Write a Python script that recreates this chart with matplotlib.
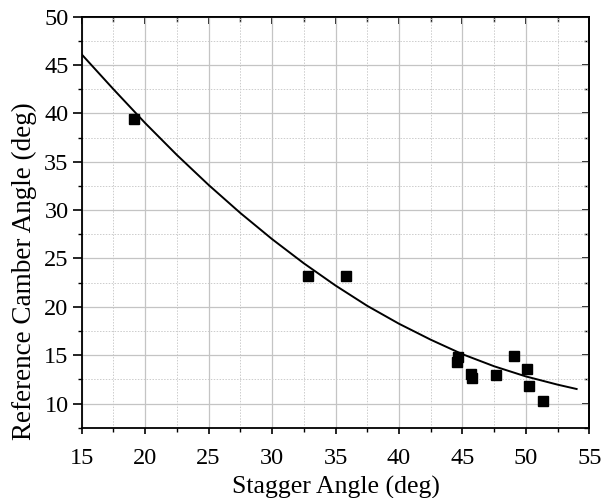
import matplotlib
matplotlib.use('Agg')
import matplotlib.pyplot as plt
from matplotlib.ticker import MultipleLocator

# --- data ---
stagger = [19.12, 32.86, 35.85, 44.63, 44.55, 45.65, 45.78, 47.65, 49.07, 50.07, 50.22, 51.37]
camber = [39.47, 23.23, 23.2, 14.77, 14.25, 13.05, 12.63, 12.94, 14.91, 13.53, 11.8, 10.31]

# fitted curve as it appears in the picture
fit_x = [15, 17.5, 20, 22.5, 25, 27.5, 30, 32.5, 35, 37.5, 40, 42.5, 45, 47.5, 50, 52.5, 54]
fit_y = [46.1, 42.5, 39.0, 35.7, 32.6, 29.7, 27.0, 24.5, 22.2, 20.1, 18.25, 16.6, 15.1, 13.85, 12.8, 11.95, 11.5]

y_ticks = [10, 15, 20, 25, 30, 35, 40, 45, 50]

plt.rcParams['font.family'] = ['Liberation Serif', 'DejaVu Serif']

fig = plt.figure(figsize=(6.03, 4.98), dpi=100)
ax = fig.add_axes([0.1355, 0.1412, 0.8418, 0.8253])

ax.plot(fit_x, fit_y, color='black', linewidth=1.4, zorder=3)
ax.plot(stagger, camber, linestyle='none', marker='s', markersize=7.2,
        color='black', zorder=4)

ax.set_xlim(15, 55)
ax.set_ylim(7.5, 50)
ax.xaxis.set_major_locator(MultipleLocator(5))
ax.xaxis.set_minor_locator(MultipleLocator(2.5))
ax.set_yticks(y_ticks)
ax.yaxis.set_minor_locator(MultipleLocator(2.5))

ax.grid(True, which='major', color='#c4c4c4', linewidth=0.9, linestyle='-')
ax.grid(True, which='minor', color='#cccccc', linewidth=0.7, linestyle=(0, (1.5, 1.5)))
ax.set_axisbelow(True)

for s in ax.spines.values():
    s.set_linewidth(1.3)

ax.tick_params(axis='x', which='major', direction='out', length=4.5, width=1.2,
               labelsize=17.5, pad=10)
ax.tick_params(axis='x', which='minor', direction='out', length=2.8, width=1.0)
ax.tick_params(axis='y', which='major', direction='out', length=6.5, width=1.2,
               labelsize=17.5, pad=3)
ax.tick_params(axis='y', which='minor', direction='out', length=3, width=1.0)

# mirrored ticks on top and right, pointing inward
top = ax.secondary_xaxis('top')
top.xaxis.set_major_locator(MultipleLocator(5))
top.xaxis.set_minor_locator(MultipleLocator(2.5))
top.tick_params(which='major', direction='in', length=5, width=1.2, labeltop=False)
top.tick_params(which='minor', direction='in', length=3.5, width=1.0)
right = ax.secondary_yaxis('right')
right.set_yticks(y_ticks)
right.yaxis.set_minor_locator(MultipleLocator(2.5))
right.tick_params(which='major', direction='in', length=5, width=1.2, labelright=False)
right.tick_params(which='minor', direction='in', length=3.5, width=1.0)
for sec in (top, right):
    for s in sec.spines.values():
        s.set_linewidth(1.3)

ax.set_xlabel('Stagger Angle (deg)', fontsize=18.5, labelpad=5)
ax.set_ylabel('Reference Camber Angle (deg)', fontsize=19.5)
ax.yaxis.set_label_coords(-0.088, 0.381)

fig.savefig('out.png', dpi=100)
